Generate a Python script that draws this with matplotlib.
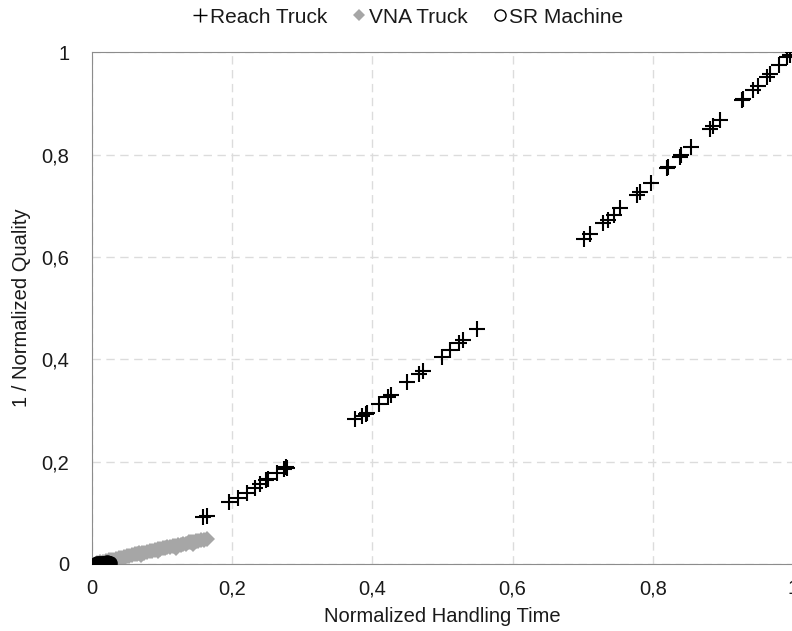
import matplotlib
matplotlib.use("Agg")
import matplotlib.pyplot as plt
from matplotlib.lines import Line2D

plt.rcParams['font.family'] = ['Liberation Sans', 'DejaVu Sans']

# Reach Truck points
reach_x = [0.159, 0.164, 0.195, 0.208, 0.221, 0.233, 0.240, 0.248, 0.252, 0.264, 0.274, 0.277, 0.278,
           0.376, 0.385, 0.391, 0.393, 0.409, 0.423, 0.426, 0.449, 0.467, 0.472, 0.499, 0.511, 0.524, 0.530, 0.549,
           0.702, 0.711, 0.729, 0.736, 0.744, 0.753, 0.777, 0.782, 0.798, 0.820, 0.821, 0.838, 0.840, 0.855,
           0.881, 0.885, 0.895, 0.927, 0.929, 0.943, 0.950, 0.963, 0.967, 0.980, 0.991, 0.995, 1.0]
reach_y = [0.091, 0.094, 0.121, 0.128, 0.139, 0.148, 0.156, 0.164, 0.167, 0.177, 0.185, 0.190, 0.188,
           0.283, 0.289, 0.294, 0.296, 0.313, 0.327, 0.330, 0.355, 0.371, 0.378, 0.405, 0.418, 0.432, 0.438, 0.459,
           0.635, 0.645, 0.666, 0.672, 0.682, 0.695, 0.722, 0.727, 0.745, 0.773, 0.775, 0.796, 0.799, 0.814,
           0.851, 0.856, 0.867, 0.907, 0.908, 0.926, 0.934, 0.952, 0.957, 0.975, 0.991, 0.995, 1.0]

# VNA Truck points
vna_x = [0.008, 0.012, 0.016, 0.020, 0.024, 0.028, 0.031, 0.035, 0.039, 0.042, 0.046, 0.050, 0.053,
         0.057, 0.061, 0.064, 0.068, 0.072, 0.075, 0.079, 0.083, 0.086, 0.090, 0.094, 0.097, 0.101,
         0.105, 0.108, 0.112, 0.116, 0.119, 0.123, 0.127, 0.130, 0.134, 0.138, 0.141, 0.145, 0.149,
         0.152, 0.156, 0.160, 0.165, 0.045, 0.070, 0.095, 0.120, 0.145]
vna_y = [0.002, 0.003, 0.004, 0.006, 0.007, 0.008, 0.008, 0.010, 0.011, 0.012, 0.014, 0.015, 0.016,
         0.017, 0.019, 0.019, 0.021, 0.022, 0.022, 0.024, 0.025, 0.026, 0.027, 0.029, 0.029, 0.031,
         0.032, 0.033, 0.034, 0.035, 0.036, 0.038, 0.038, 0.039, 0.040, 0.042, 0.042, 0.043, 0.044,
         0.045, 0.046, 0.047, 0.048, 0.010, 0.018, 0.025, 0.031, 0.039]

# SR Machine points
sr_x = [0.006, 0.008, 0.010, 0.011, 0.013, 0.014, 0.016, 0.017, 0.019, 0.020, 0.022, 0.023, 0.025, 0.026]
sr_y = [0.000, 0.001, 0.000, 0.002, 0.001, 0.000, 0.002, 0.001, 0.002, 0.001, 0.003, 0.002, 0.002, 0.002]

ticks = [0, 0.2, 0.4, 0.6, 0.8, 1]
tick_labels = ['0', '0,2', '0,4', '0,6', '0,8', '1']

txt = '#1a1a1a'
fs = 14.5

fig = plt.figure(figsize=(7.92, 6.31), dpi=100)
ax = fig.add_axes([0.1158, 0.1062, 0.8857, 0.8109])

ax.plot(reach_x, reach_y, linestyle='none', marker='+', color='black',
        markersize=12, markeredgewidth=1.5, zorder=3)
ax.plot(vna_x, vna_y, linestyle='none', marker='D', color='#a6a6a6',
        markersize=8, markeredgewidth=0, zorder=2)
ax.plot(sr_x, sr_y, linestyle='none', marker='o', markerfacecolor='black',
        markeredgecolor='black', markersize=9, markeredgewidth=1.5, zorder=4)

ax.set_xlim(0, 1)
ax.set_ylim(0, 1)
ax.set_xticks(ticks)
ax.set_xticklabels(tick_labels)
ax.set_yticks(ticks)
ax.set_yticklabels(tick_labels)
ax.tick_params(length=0, labelsize=fs, colors=txt)
ax.tick_params(axis='x', pad=11)
ax.tick_params(axis='y', pad=16)

ax.grid(True, color='#dcdcdc', linestyle=(0, (6, 4)), linewidth=1)
ax.set_axisbelow(True)
for s in ['left', 'bottom', 'top']:
    ax.spines[s].set_color('#8c8c8c')
ax.spines['right'].set_visible(False)

ax.set_xlabel('Normalized Handling Time', fontsize=fs, color=txt, labelpad=6)
ax.set_ylabel('1 / Normalized Quality', fontsize=fs, color=txt, labelpad=8)

# legend with small markers
handles = [Line2D([], [], linestyle='none', marker='+', color='black', markersize=10, markeredgewidth=1),
           Line2D([], [], linestyle='none', marker='D', color='#a6a6a6', markersize=6, markeredgewidth=0),
           Line2D([], [], linestyle='none', marker='o', markerfacecolor='white',
                  markeredgecolor='black', markersize=8, markeredgewidth=1)]
fig.legend(handles, ['Reach Truck', 'VNA Truck', 'SR Machine'], loc='center',
           bbox_to_anchor=(0.516, 0.973), ncol=3, frameon=False, fontsize=15,
           handlelength=0.6, handletextpad=0.15, columnspacing=1.25, labelcolor=txt)

fig.savefig('out.png', dpi=100)
